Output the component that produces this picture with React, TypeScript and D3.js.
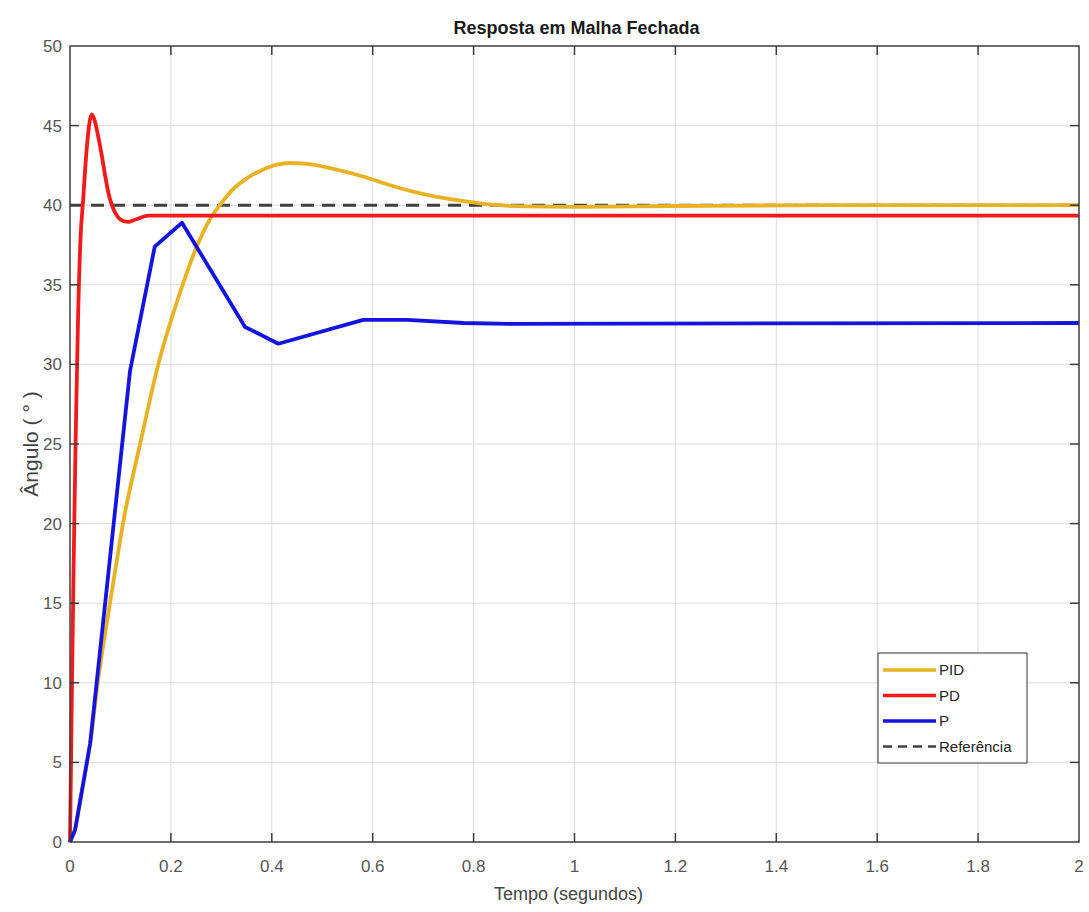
import { useEffect, useRef } from 'react';
import * as d3 from 'd3';

// PID response
const tPID = [0, 0.01, 0.02, 0.03, 0.041, 0.055, 0.07, 0.093, 0.105, 0.139, 0.175, 0.218, 0.25, 0.281, 0.297, 0.32, 0.351, 0.38, 0.41, 0.436, 0.47, 0.52, 0.581, 0.63, 0.68, 0.73, 0.78, 0.83, 0.9, 1.0, 1.2, 1.5, 2];
const vPID = [0, 0.8, 2.5, 4.3, 6.4, 10, 13.2, 17.7, 20, 25, 30, 34.5, 37.3, 39.3, 40, 40.9, 41.7, 42.2, 42.55, 42.65, 42.6, 42.3, 41.8, 41.3, 40.85, 40.5, 40.25, 40.05, 39.93, 39.9, 39.95, 40, 40];

// PD response
const tPD = [0, 0.002, 0.004, 0.007, 0.011, 0.016, 0.021, 0.026, 0.033, 0.043, 0.05, 0.056, 0.062, 0.07, 0.076, 0.083, 0.09, 0.1, 0.115, 0.13, 0.155, 0.18, 2];
const vPD = [0, 5, 10, 17, 25, 33, 38, 40.3, 43.5, 45.7, 45.2, 44.3, 43.3, 41.8, 40.8, 40, 39.5, 39.1, 38.95, 39.1, 39.35, 39.35, 39.35];

// P response (piecewise, as in the solver output)
const tP = [0, 0.01, 0.04, 0.119, 0.168, 0.222, 0.347, 0.413, 0.581, 0.668, 0.78, 0.87, 2];
const vP = [0, 0.75, 6.2, 29.6, 37.4, 38.9, 32.35, 31.3, 32.8, 32.8, 32.6, 32.55, 32.6];

const referencia = 40;

const xTicks = [0, 0.2, 0.4, 0.6, 0.8, 1, 1.2, 1.4, 1.6, 1.8, 2];
const yTicks = [0, 5, 10, 15, 20, 25, 30, 35, 40, 45, 50];

const legendItems = [
  { label: 'PID', color: '#e8b224', dash: null },
  { label: 'PD', color: '#f21a1a', dash: null },
  { label: 'P', color: '#1414e0', dash: null },
  { label: 'Referência', color: '#404040', dash: '9,6' },
];

const W = 1089;
const H = 912;
const margin = { left: 70, right: 10, top: 46, bottom: 70 };

export default function App() {
  const svgRef = useRef<SVGSVGElement>(null);

  useEffect(() => {
    if (!svgRef.current) return;
    const svg = d3.select(svgRef.current);
    svg.selectAll('*').remove();

    const x = d3.scaleLinear().domain([0, 2]).range([margin.left, W - margin.right]);
    const y = d3.scaleLinear().domain([0, 50]).range([H - margin.bottom, margin.top]);
    const font = '"Liberation Sans", Arial, sans-serif';

    svg.append('rect').attr('width', W).attr('height', H).attr('fill', '#fff');

    // grid
    const grid = svg.append('g').attr('stroke', '#dcdcdc').attr('stroke-width', 1);
    grid.selectAll('line.gx').data(xTicks.slice(1, -1)).join('line')
      .attr('x1', d => x(d)).attr('x2', d => x(d))
      .attr('y1', y(0)).attr('y2', y(50));
    grid.selectAll('line.gy').data(yTicks.slice(1, -1)).join('line')
      .attr('x1', x(0)).attr('x2', x(2))
      .attr('y1', d => y(d)).attr('y2', d => y(d));

    const plot = svg.append('g');
    const makeLine = (ts: number[], vs: number[], curve: any) =>
      d3.line<number>().x((_, i) => x(ts[i])).y(d => y(d)).curve(curve)(vs);

    // reference
    plot.append('line')
      .attr('x1', x(0)).attr('x2', x(2))
      .attr('y1', y(referencia)).attr('y2', y(referencia))
      .attr('stroke', '#404040').attr('stroke-width', 3)
      .attr('stroke-dasharray', '13,8');

    plot.append('path').attr('d', makeLine(tPID, vPID, d3.curveMonotoneX))
      .attr('fill', 'none').attr('stroke', legendItems[0].color).attr('stroke-width', 3.8);
    plot.append('path').attr('d', makeLine(tPD, vPD, d3.curveMonotoneX))
      .attr('fill', 'none').attr('stroke', legendItems[1].color).attr('stroke-width', 3.8);
    plot.append('path').attr('d', makeLine(tP, vP, d3.curveLinear))
      .attr('fill', 'none').attr('stroke', legendItems[2].color).attr('stroke-width', 3.8)
      .attr('stroke-linejoin', 'round');

    // axes box + inward ticks
    const axisColor = '#3c3c3c';
    svg.append('rect')
      .attr('x', x(0)).attr('y', y(50))
      .attr('width', x(2) - x(0)).attr('height', y(0) - y(50))
      .attr('fill', 'none').attr('stroke', axisColor).attr('stroke-width', 1.5);

    const ticks = svg.append('g').attr('stroke', axisColor).attr('stroke-width', 1.5);
    const tl = 9;
    xTicks.slice(1, -1).forEach(d => {
      ticks.append('line').attr('x1', x(d)).attr('x2', x(d)).attr('y1', y(0)).attr('y2', y(0) - tl);
      ticks.append('line').attr('x1', x(d)).attr('x2', x(d)).attr('y1', y(50)).attr('y2', y(50) + tl);
    });
    yTicks.slice(1, -1).forEach(d => {
      ticks.append('line').attr('x1', x(0)).attr('x2', x(0) + tl).attr('y1', y(d)).attr('y2', y(d));
      ticks.append('line').attr('x1', x(2)).attr('x2', x(2) - tl).attr('y1', y(d)).attr('y2', y(d));
    });

    // tick labels
    svg.append('g').selectAll('text').data(xTicks).join('text')
      .attr('x', d => x(d)).attr('y', y(0) + 30)
      .attr('text-anchor', 'middle')
      .attr('font-family', font).attr('font-size', 17).attr('fill', '#555')
      .text(d => d3.format('~g')(d));
    svg.append('g').selectAll('text').data(yTicks).join('text')
      .attr('x', x(0) - 8).attr('y', d => y(d)).attr('dy', '0.35em')
      .attr('text-anchor', 'end')
      .attr('font-family', font).attr('font-size', 17).attr('fill', '#555')
      .text(d => d);

    // title and axis labels
    svg.append('text')
      .attr('x', (x(0) + x(2)) / 2 + 2).attr('y', 34)
      .attr('text-anchor', 'middle')
      .attr('font-family', font).attr('font-size', 18).attr('font-weight', 'bold').attr('fill', '#1a1a1a')
      .text('Resposta em Malha Fechada');
    svg.append('text')
      .attr('x', (x(0) + x(2)) / 2 - 6).attr('y', 900)
      .attr('text-anchor', 'middle')
      .attr('font-family', font).attr('font-size', 18).attr('fill', '#444')
      .text('Tempo (segundos)');
    svg.append('text')
      .attr('transform', `translate(38, ${(y(0) + y(50)) / 2}) rotate(-90)`)
      .attr('text-anchor', 'middle')
      .attr('font-family', font).attr('font-size', 21).attr('fill', '#444')
      .text('Ângulo ( ° )');

    // legend
    const lg = svg.append('g').attr('transform', 'translate(878, 653)');
    lg.append('rect').attr('width', 149).attr('height', 110)
      .attr('fill', '#fff').attr('stroke', '#333').attr('stroke-width', 1);
    legendItems.forEach((it, i) => {
      const yy = 17 + i * 25.5;
      lg.append('line').attr('x1', 5).attr('x2', 58).attr('y1', yy).attr('y2', yy)
        .attr('stroke', it.color).attr('stroke-width', it.dash ? 2.5 : 3.5)
        .attr('stroke-dasharray', it.dash);
      lg.append('text').attr('x', 61).attr('y', yy).attr('dy', '0.35em')
        .attr('font-family', font).attr('font-size', 15).attr('fill', '#222')
        .text(it.label);
    });
  }, []);

  return (
    <div style={{ position: 'absolute', left: 0, top: 0, width: W, height: H, background: '#fff' }}>
      <svg ref={svgRef} width={W} height={H} style={{ display: 'block' }} />
    </div>
  );
}
